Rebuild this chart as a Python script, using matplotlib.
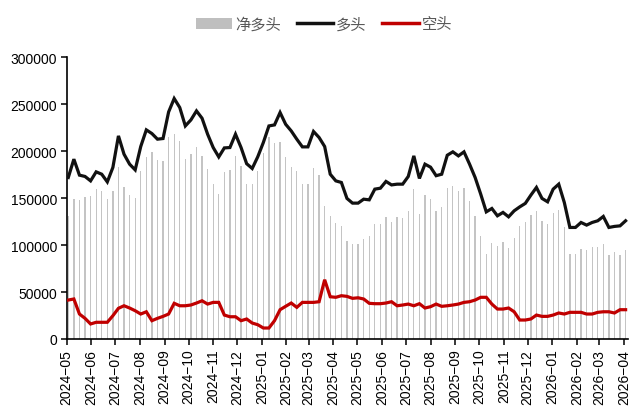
import matplotlib
matplotlib.use("Agg")
import matplotlib.pyplot as plt
import matplotlib.dates as mdates
from matplotlib.patches import Patch
from matplotlib.lines import Line2D
import pandas as pd
import numpy as np

plt.rcParams['font.family'] = ['Liberation Sans', 'Noto Sans CJK SC', 'DejaVu Sans']

start_date = "2024-05-03"
n_weeks = 101

long_pos = [172000, 191500, 174500, 173100, 168400, 178000, 175500, 167300, 182700, 216300,
            196800, 186200, 180100, 205000, 222700, 218800, 212800, 213500, 241800, 256100,
            246500, 226900, 233300, 242900, 235100, 218100, 203900, 193900, 203500, 203900,
            218100, 203900, 186700, 181600, 194100, 209300, 226900, 228000, 241200, 228700,
            221600, 212800, 204600, 204600, 221000, 214600, 205000, 175500, 168400, 166700,
            149700, 144700, 144700, 148900, 148200, 159600, 160600, 167800, 164100, 164900,
            164900, 173100, 195000, 171000, 186200, 183000, 173900, 175500, 195700, 199300,
            195000, 199300, 186200, 172000, 154300, 135400, 139000, 131200, 134800, 130100,
            136500, 140700, 144400, 153200, 161400, 149700, 146100, 159600, 164900, 145400,
            118800, 118800, 124100, 121300, 124100, 125900, 130500, 118800, 119900, 120500,
            125900]

short_pos = [41500, 42600, 26600, 22000, 16000, 17800, 17800, 17800, 24800, 32700,
             35400, 33000, 30100, 26600, 29000, 19500, 22000, 24100, 26600, 38000,
             35400, 35400, 36200, 38300, 40700, 37200, 39000, 39000, 25500, 23700,
             23700, 19500, 21300, 17000, 15200, 11700, 11700, 19500, 31200, 34800,
             38300, 33700, 39000, 39000, 39000, 39700, 63100, 45000, 44400, 46100,
             45400, 43300, 43900, 42600, 38000, 37600, 37600, 38300, 39700, 35400,
             36200, 37200, 35400, 37600, 33000, 34400, 37200, 34800, 35400, 36200,
             37200, 39000, 39700, 41500, 44400, 44400, 37200, 31900, 31900, 33000,
             29000, 20200, 20200, 21300, 25500, 24100, 24100, 25500, 27700, 26600,
             28400, 28400, 28400, 26600, 26600, 28400, 29000, 29000, 27700, 31200,
             31200]

net_pos = [130500, 148900, 147900, 151100, 152400, 160200, 157700, 149500, 157900, 183600,
           161400, 153200, 150000, 178400, 193700, 199300, 190800, 189400, 215200, 218100,
           211100, 191500, 197100, 204600, 194400, 180900, 164900, 154900, 178000, 180200,
           194400, 184400, 165400, 164600, 178900, 197600, 215200, 208500, 210000, 193900,
           183300, 179100, 165600, 165600, 182000, 174900, 141900, 130500, 124000, 120600,
           104300, 101400, 100800, 106300, 110200, 122000, 123000, 129500, 124400, 129500,
           128700, 135900, 159600, 133400, 153200, 148600, 136700, 140700, 160300, 163100,
           157800, 160300, 146500, 130500, 109900, 91000, 101800, 99300, 102900, 97100,
           107500, 120500, 124200, 131900, 135900, 125600, 122000, 134100, 137200, 118800,
           90400, 90400, 95700, 94700, 97500, 97500, 101500, 89800, 92200, 89300,
           94700]

legend_labels = ["净多头", "多头", "空头"]
y_ticks = [0, 50000, 100000, 150000, 200000, 250000, 300000]

dates = pd.date_range(start_date, periods=n_weeks, freq="7D")

W, H = 631, 410
fig = plt.figure(figsize=(W / 100, H / 100), dpi=100)
left, right, top, bottom = 66.7, 628, 58.3, 340
ax = fig.add_axes([left / W, 1 - bottom / H, (right - left) / W, (bottom - top) / H])

bar_color = "#c4c4c4"
black = "#111111"
red = "#c00000"

ax.bar(dates, net_pos, width=1.6, color=bar_color, zorder=1)
ax.plot(dates, long_pos, color=black, lw=2.3, zorder=3, solid_joinstyle="miter")
ax.plot(dates, short_pos, color=red, lw=2.3, zorder=3, solid_joinstyle="miter")

ax.set_ylim(0, 300000)
ax.set_yticks(y_ticks)
ax.set_yticklabels([str(v) for v in y_ticks])
ax.set_xlim(pd.Timestamp("2024-05-01"), pd.Timestamp("2024-05-01") + pd.Timedelta(days=705))

ax.xaxis.set_major_locator(mdates.MonthLocator())
ax.xaxis.set_major_formatter(mdates.DateFormatter("%Y\u2212%m"))
plt.setp(ax.get_xticklabels(), rotation=90, ha="center", va="top")

for s in ["top", "right"]:
    ax.spines[s].set_visible(False)
for s in ["left", "bottom"]:
    ax.spines[s].set_color("black")
    ax.spines[s].set_linewidth(1.2)
ax.tick_params(axis="both", direction="out", length=4, width=1.1, color="black",
               labelsize=10, labelcolor="black", pad=3)

handles = [Patch(facecolor="#bfbfbf", edgecolor="none"),
           Line2D([0], [0], color=black, lw=2.5),
           Line2D([0], [0], color=red, lw=2.5)]
leg = fig.legend(handles, legend_labels, loc="center", bbox_to_anchor=(324 / W, 1 - 25 / H),
                 ncol=3, frameon=False, handlelength=2.4, handletextpad=0.2, columnspacing=1.0,
                 prop={"family": ["Noto Sans CJK SC", "DejaVu Sans"], "size": 11})
for t in leg.get_texts():
    t.set_color("#595959")

fig.savefig("out.png", dpi=100)
